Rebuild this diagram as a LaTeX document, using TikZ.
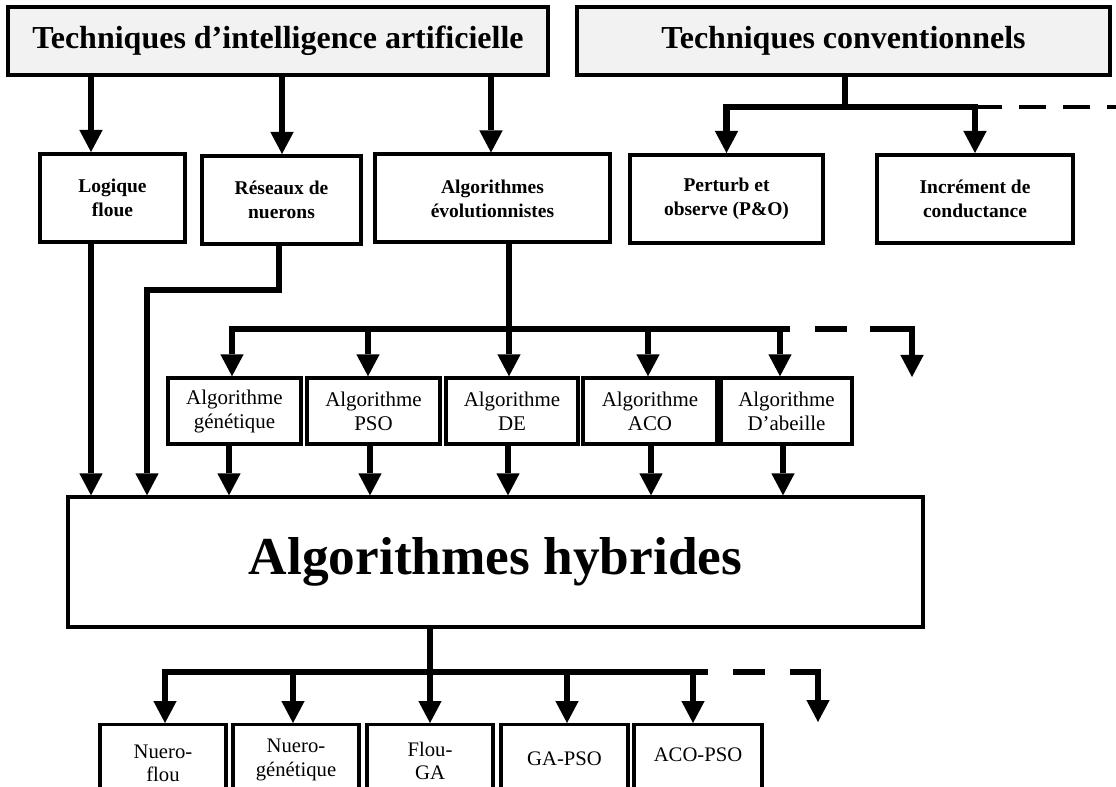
\documentclass[tikz,border=0pt]{standalone}
\usepackage{fontspec}
\setmainfont{Liberation Serif}
\usetikzlibrary{arrows.meta}
\tikzset{
  every node/.style={inner sep=0pt},
  topbox/.style={draw, line width=3pt, fill=black!5, font=\bfseries\fontsize{24}{28}\selectfont, minimum height=68*0.75pt},
  midbox/.style={draw, line width=3pt, font=\bfseries\fontsize{14.6}{18}\selectfont, align=center, minimum height=88*0.75pt},
  algbox/.style={draw, line width=2.6pt, font=\fontsize{15.7}{18}\selectfont, align=center, minimum height=66*0.75pt},
  hybbox/.style={draw, line width=2.5pt, font=\bfseries\fontsize{40}{48}\selectfont, minimum height=130*0.75pt},
  botbox/.style={draw, line width=2.6pt, minimum height=100*0.75pt, anchor=north},
  btxt/.style={font=\fontsize{15.5}{17.5}\selectfont, align=center, anchor=center},
  conn/.style={line width=4.9pt},
  arr/.style={conn, -{Triangle[length=16.5pt,width=17.5pt,line width=0pt]}},
  dsh/.style={conn, dash pattern=on 24pt off 18.75pt, dash phase=24pt},
  dshtop/.style={line width=3pt, dash pattern=on 20pt off 13pt},
}
\begin{document}
\begin{tikzpicture}[x=0.75pt,y=-0.75pt]
\useasboundingbox (0,0) rectangle (1116,787);
\clip (0,0) rectangle (1116,787);

% top boxes
\node[topbox, minimum width=540*0.75pt] (ai) at (278,41) {Techniques d’intelligence artificielle};
\node[topbox, minimum width=533*0.75pt] (tc) at (843.5,41) {Techniques conventionnels};

% second row
\node[midbox, minimum width=145*0.75pt] (lf) at (112.5,198) {Logique\\floue};
\node[midbox, minimum width=159*0.75pt] (rn) at (281.5,200) {Réseaux de\\nuerons};
\node[midbox, minimum width=235*0.75pt] (ae) at (492.5,198.5) {Algorithmes\\évolutionnistes};
\node[midbox, minimum width=193*0.75pt] (po) at (726.5,199) {Perturb et\\observe (P\&O)};
\node[midbox, minimum width=196*0.75pt] (ic) at (975,199) {Incrément de\\conductance};

% third row
\node[algbox, minimum width=133*0.75pt] (ag) at (234.5,411) {Algorithme\\génétique};
\node[algbox, minimum width=133*0.75pt] (ap) at (373.5,411) {Algorithme\\PSO};
\node[algbox, minimum width=132*0.75pt] (ad) at (512,411) {Algorithme\\DE};
\node[algbox, minimum width=134*0.75pt] (aa) at (650,411) {Algorithme\\ACO};
\node[algbox, minimum width=131*0.75pt] (ab) at (786.5,411) {Algorithme\\D’abeille};

% hybrid
\node[hybbox, minimum width=855*0.75pt] (hy) at (495.5,562) {Algorithmes hybrides};

% bottom boxes
\node[botbox, minimum width=126*0.75pt, label={[btxt,yshift=-40*0.75pt]north:{Nuero-\\flou}}] (b1) at (163,723) {};
\node[botbox, minimum width=126*0.75pt, label={[btxt,yshift=-37*0.75pt]north:{Nuero-\\génétique}}] (b2) at (296,723) {};
\node[botbox, minimum width=126*0.75pt, label={[btxt,yshift=-38*0.75pt]north:{Flou-\\GA}}] (b3) at (430,723) {};
\node[botbox, minimum width=127*0.75pt, label={[btxt,yshift=-36*0.75pt]north:{GA-PSO}}] (b4) at (564.5,723) {};
\node[botbox, minimum width=128*0.75pt, label={[btxt,yshift=-32*0.75pt]north:{ACO-PSO}}] (b5) at (698,723) {};

% x positions
\coordinate (xlf) at (91,0);
\coordinate (xrn) at (282,0);
\coordinate (xae) at (491,0);

% AI -> second row
\draw[arr] (ai.south -| xlf) -- (lf.north -| xlf);
\draw[arr] (ai.south -| xrn) -- (rn.north -| xrn);
\draw[arr] (ai.south -| xae) -- (ae.north -| xae);

% conventional
\coordinate (ctj) at (845,107);
\coordinate (ctend) at (1116,107);
\draw[conn] (tc.south -| ctj) -- (ctj);
\draw[arr] (ctj) -| (po.north);
\draw[arr] (ctj) -| (ic.north);
\draw[dshtop] (ic.north |- ctj) -- (ctend);

% logique -> hybrid
\draw[arr] (lf.south -| xlf) -- (hy.north -| xlf);

% reseaux -> hybrid
\coordinate (rn1) at (279,290);
\coordinate (rn2) at (147,290);
\draw[arr] (rn.south -| rn1) -- (rn1) -- (rn2) -- (hy.north -| rn2);

% evolution branch
\coordinate (ev) at (509,329);
\coordinate (xg) at (232,0);
\coordinate (xp) at (368,0);
\coordinate (xa) at (648,0);
\coordinate (xb) at (780,0);
\coordinate (evR) at (790,329);
\coordinate (evD) at (870,329);
\coordinate (evA) at (912,377);
\draw[conn] (ae.south -| ev) -- (ev);
\draw[arr] (ev) -- (ad.north -| ev);
\draw[arr] (ev) -| (ag.north -| xg);
\draw[arr] (ev) -| (ap.north -| xp);
\draw[arr] (ev) -| (aa.north -| xa);
\draw[arr] (ev) -| (ab.north -| xb);
\draw[conn] (ev) -- (evR);
\draw[dsh] (evR) -- (evD);
\draw[arr] (evD) -| (evA);

% third row -> hybrid
\coordinate (yg) at (229,0);
\coordinate (yp) at (370,0);
\coordinate (yd) at (508,0);
\coordinate (ya) at (651,0);
\coordinate (yb) at (783,0);
\draw[arr] (ag.south -| yg) -- (hy.north -| yg);
\draw[arr] (ap.south -| yp) -- (hy.north -| yp);
\draw[arr] (ad.south -| yd) -- (hy.north -| yd);
\draw[arr] (aa.south -| ya) -- (hy.north -| ya);
\draw[arr] (ab.south -| yb) -- (hy.north -| yb);

% hybrid -> bottom
\coordinate (hb) at (430,672);
\coordinate (z1) at (165,0);
\coordinate (z2) at (293,0);
\coordinate (z4) at (567,0);
\coordinate (z5) at (693,0);
\coordinate (hbR) at (708,672);
\coordinate (hbD) at (790,672);
\coordinate (hbA) at (818,722);
\draw[conn] (hy.south -| hb) -- (hb);
\draw[arr] (hb) -- (b3.north -| hb);
\draw[arr] (hb) -| (b1.north -| z1);
\draw[arr] (hb) -| (b2.north -| z2);
\draw[arr] (hb) -| (b4.north -| z4);
\draw[arr] (hb) -| (b5.north -| z5);
\draw[conn] (hb) -- (hbR);
\draw[dsh] (hbR) -- (hbD);
\draw[arr] (hbD) -| (hbA);
\end{tikzpicture}
\end{document}
